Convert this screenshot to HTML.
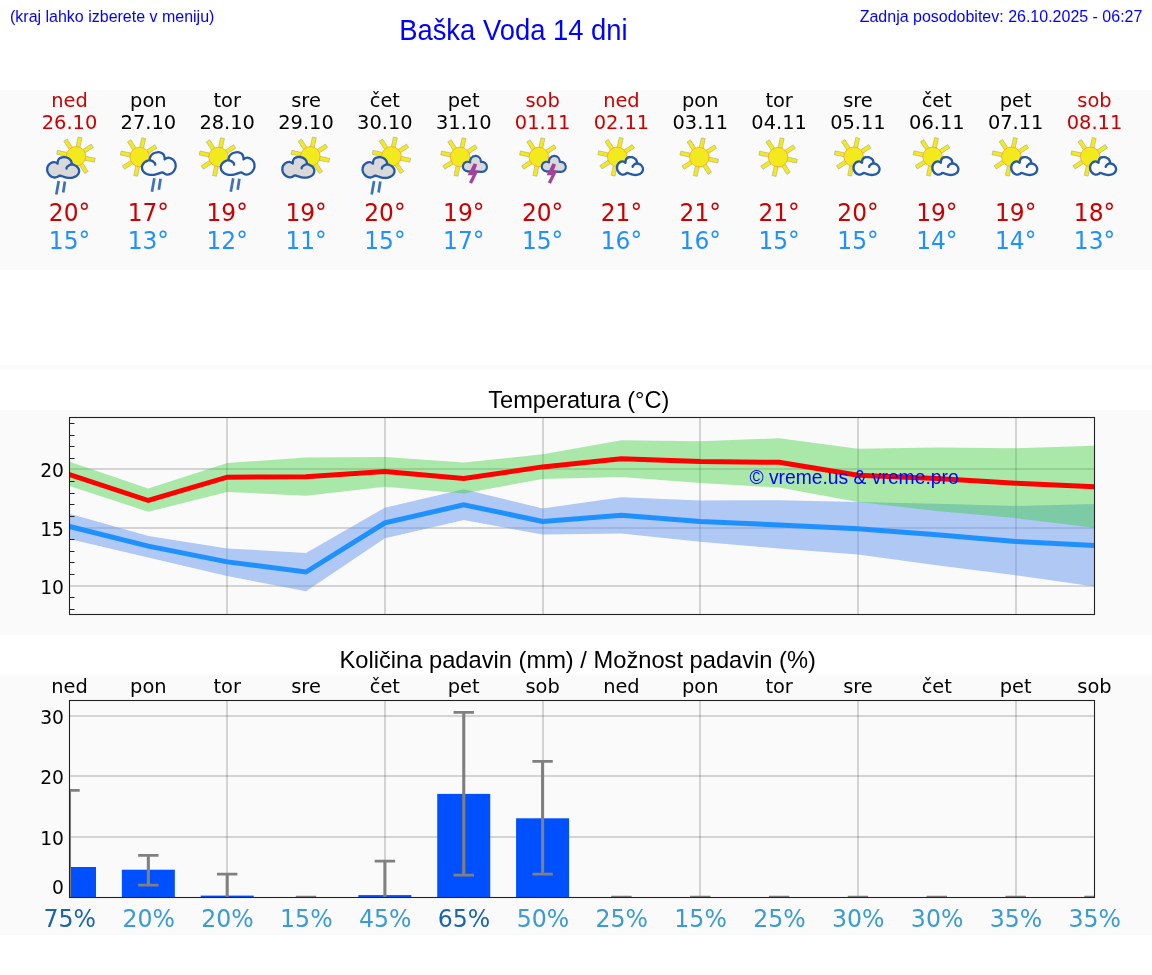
<!DOCTYPE html>
<html lang="sl">
<head>
<meta charset="utf-8">
<title>Baška Voda 14 dni</title>
<style>
html,body{margin:0;padding:0;background:#fff;}
body{width:1152px;height:975px;position:relative;overflow:hidden;font-family:"Liberation Sans",sans-serif;}
.band{position:absolute;left:0;width:1152px;background:#fafafa;}
.hdr{position:absolute;color:#0000ff;white-space:nowrap;line-height:1;}
svg{position:absolute;left:0;top:0;}
svg text{font-family:"DejaVu Sans","Liberation Sans",sans-serif;}
svg text.ls{font-family:"Liberation Sans",sans-serif;}
</style>
</head>
<body>
<div class="band" style="top:90px;height:180px"></div>
<div class="band" style="top:365px;height:5px"></div>
<div class="band" style="top:410px;height:225px"></div>
<div class="band" style="top:675px;height:260px"></div>
<svg width="1152" height="975" viewBox="0 0 1152 975">
<defs>
<g id="sun"><rect x="-2" y="-19.3" width="4" height="10" fill="#f2ea1c" stroke="#8a8aa0" stroke-opacity="0.55" stroke-width="0.7" transform="rotate(12)"/><rect x="-2" y="-19.3" width="4" height="10" fill="#f2ea1c" stroke="#8a8aa0" stroke-opacity="0.55" stroke-width="0.7" transform="rotate(57)"/><rect x="-2" y="-19.3" width="4" height="10" fill="#f2ea1c" stroke="#8a8aa0" stroke-opacity="0.55" stroke-width="0.7" transform="rotate(102)"/><rect x="-2" y="-19.3" width="4" height="10" fill="#f2ea1c" stroke="#8a8aa0" stroke-opacity="0.55" stroke-width="0.7" transform="rotate(147)"/><rect x="-2" y="-19.3" width="4" height="10" fill="#f2ea1c" stroke="#8a8aa0" stroke-opacity="0.55" stroke-width="0.7" transform="rotate(192)"/><rect x="-2" y="-19.3" width="4" height="10" fill="#f2ea1c" stroke="#8a8aa0" stroke-opacity="0.55" stroke-width="0.7" transform="rotate(237)"/><rect x="-2" y="-19.3" width="4" height="10" fill="#f2ea1c" stroke="#8a8aa0" stroke-opacity="0.55" stroke-width="0.7" transform="rotate(282)"/><rect x="-2" y="-19.3" width="4" height="10" fill="#f2ea1c" stroke="#8a8aa0" stroke-opacity="0.55" stroke-width="0.7" transform="rotate(327)"/><circle r="9.7" fill="#f2ea1c" stroke="#ffac22" stroke-width="0.9"/></g>
<g id="cloudS"><path d="M9.37,6.48 C9.41,6.08 9.35,4.84 9.60,4.09 C9.85,3.34 10.30,2.51 10.87,2.00 C11.43,1.49 12.25,1.19 12.98,1.01 C13.71,0.84 14.44,0.84 15.24,0.96 C16.04,1.07 17.03,1.30 17.78,1.70 C18.53,2.10 19.26,2.72 19.76,3.34 C20.25,3.96 20.56,4.81 20.75,5.43 C20.93,6.05 20.86,6.80 20.89,7.07 C21.22,7.17 22.16,7.35 22.86,7.67 C23.57,7.99 24.51,8.44 25.12,9.01 C25.73,9.59 26.24,10.41 26.53,11.10 C26.82,11.80 26.94,12.45 26.87,13.19 C26.80,13.94 26.54,14.88 26.11,15.58 C25.67,16.28 25.00,16.90 24.27,17.37 C23.54,17.84 22.58,18.19 21.73,18.42 C20.89,18.64 20.04,18.72 19.19,18.72 C18.35,18.72 17.50,18.59 16.65,18.42 C15.81,18.24 14.86,17.92 14.11,17.67 C13.36,17.42 12.70,17.08 12.14,16.92 C11.57,16.77 10.96,16.75 10.73,16.72 C10.49,16.90 9.88,17.54 9.31,17.82 C8.75,18.10 8.04,18.39 7.34,18.42 C6.63,18.44 5.83,18.32 5.08,17.97 C4.33,17.62 3.46,17.02 2.82,16.33 C2.19,15.63 1.59,14.61 1.27,13.79 C0.95,12.97 0.88,12.25 0.90,11.40 C0.93,10.56 1.07,9.51 1.41,8.72 C1.75,7.92 2.35,7.17 2.96,6.63 C3.58,6.08 4.35,5.66 5.08,5.43 C5.81,5.21 6.62,5.11 7.34,5.28 C8.05,5.46 9.03,6.28 9.37,6.48 Z" fill="#fbfbfb" stroke="#2458a8" stroke-width="2.35" stroke-linejoin="round"/><path d="M20.89,7.07 C20.60,7.17 19.71,7.42 19.19,7.67 C18.68,7.92 18.18,8.24 17.78,8.57 C17.38,8.89 16.99,9.26 16.79,9.61 C16.60,9.96 16.63,10.48 16.60,10.66" fill="none" stroke="#2458a8" stroke-width="2.35" stroke-linecap="round"/></g>
<g id="cloudG"><path d="M11.53,7.53 C11.57,7.07 11.50,5.62 11.81,4.76 C12.11,3.89 12.67,2.92 13.37,2.33 C14.06,1.73 15.08,1.38 15.97,1.18 C16.87,0.98 17.77,0.98 18.75,1.11 C19.73,1.24 20.95,1.52 21.88,1.98 C22.80,2.44 23.70,3.17 24.31,3.89 C24.91,4.61 25.29,5.60 25.52,6.32 C25.75,7.04 25.67,7.91 25.69,8.23 C26.10,8.34 27.26,8.55 28.12,8.92 C28.99,9.30 30.15,9.82 30.90,10.49 C31.66,11.15 32.28,12.11 32.64,12.92 C33.00,13.73 33.14,14.48 33.06,15.35 C32.97,16.22 32.65,17.31 32.12,18.12 C31.59,18.94 30.76,19.66 29.86,20.21 C28.96,20.76 27.78,21.16 26.74,21.42 C25.69,21.68 24.65,21.77 23.61,21.77 C22.57,21.77 21.53,21.63 20.49,21.42 C19.44,21.22 18.29,20.84 17.36,20.56 C16.44,20.27 15.62,19.87 14.93,19.69 C14.24,19.50 13.48,19.48 13.19,19.44 C12.91,19.66 12.15,20.40 11.46,20.73 C10.76,21.06 9.90,21.39 9.03,21.42 C8.16,21.45 7.18,21.31 6.25,20.90 C5.32,20.50 4.25,19.80 3.47,18.99 C2.69,18.18 1.96,17.00 1.56,16.04 C1.17,15.09 1.08,14.25 1.11,13.26 C1.14,12.28 1.31,11.06 1.74,10.14 C2.16,9.21 2.89,8.34 3.65,7.71 C4.40,7.07 5.35,6.58 6.25,6.32 C7.15,6.06 8.15,5.94 9.03,6.15 C9.91,6.35 11.11,7.30 11.53,7.53 Z" fill="#d9d9d9" stroke="#2458a8" stroke-width="2.30" stroke-linejoin="round"/><path d="M25.69,8.23 C25.35,8.34 24.25,8.63 23.61,8.92 C22.97,9.21 22.37,9.59 21.88,9.97 C21.38,10.34 20.90,10.78 20.66,11.18 C20.42,11.59 20.46,12.19 20.42,12.40" fill="none" stroke="#2458a8" stroke-width="2.30" stroke-linecap="round"/></g>
<g id="cloudW"><path d="M23.93,8.26 C23.88,7.75 23.96,6.17 23.64,5.22 C23.31,4.26 22.72,3.20 21.99,2.55 C21.26,1.90 20.19,1.52 19.24,1.29 C18.29,1.07 17.35,1.07 16.31,1.22 C15.27,1.36 13.99,1.66 13.01,2.17 C12.03,2.68 11.09,3.47 10.44,4.26 C9.80,5.06 9.41,6.14 9.16,6.93 C8.92,7.72 9.01,8.67 8.98,9.02 C8.55,9.15 7.33,9.37 6.41,9.78 C5.50,10.20 4.27,10.77 3.48,11.50 C2.69,12.23 2.03,13.27 1.65,14.16 C1.27,15.05 1.12,15.88 1.21,16.83 C1.30,17.78 1.64,18.99 2.20,19.87 C2.76,20.76 3.63,21.56 4.58,22.16 C5.53,22.76 6.78,23.21 7.88,23.49 C8.98,23.78 10.08,23.87 11.18,23.87 C12.28,23.87 13.38,23.71 14.48,23.49 C15.58,23.27 16.80,22.86 17.77,22.54 C18.75,22.22 19.61,21.79 20.34,21.59 C21.07,21.38 21.87,21.37 22.17,21.32 C22.48,21.56 23.27,22.37 24.01,22.73 C24.74,23.09 25.65,23.46 26.57,23.49 C27.49,23.52 28.53,23.36 29.50,22.92 C30.48,22.48 31.61,21.71 32.43,20.83 C33.26,19.94 34.04,18.64 34.45,17.59 C34.87,16.54 34.96,15.62 34.93,14.54 C34.90,13.47 34.71,12.13 34.27,11.12 C33.82,10.10 33.05,9.15 32.25,8.45 C31.46,7.75 30.45,7.21 29.50,6.93 C28.56,6.64 27.50,6.52 26.57,6.74 C25.64,6.96 24.37,8.01 23.93,8.26 Z" fill="#fbfbfb" stroke="#2458a8" stroke-width="2.30" stroke-linejoin="round"/><path d="M8.98,9.02 C9.34,9.15 10.51,9.47 11.18,9.78 C11.85,10.10 12.49,10.51 13.01,10.93 C13.53,11.34 14.04,11.82 14.29,12.26 C14.55,12.70 14.51,13.37 14.55,13.59" fill="none" stroke="#2458a8" stroke-width="2.30" stroke-linecap="round"/></g>
<g id="cloudT"><path d="M5.85,16.50 A4.80,4.80 0 1 1 8.38,7.62 A5.40,5.40 0 1 1 19.01,7.09 A5.00,5.00 0 1 1 20.08,16.97 Z" fill="#d9d9d9" stroke="#2458a8" stroke-width="2.10" stroke-linejoin="round"/></g>
<g id="rain"><path d="M0,0 L-2.4,13.5 M6.2,0.5 L4.5,11.5" stroke="#3f70ba" stroke-width="2.7" fill="none"/></g>
<path id="bolt" d="M41.7,33.2 L45.2,34.5 L43.1,40.3 L46.5,40.5 L40,53.7 L37,52.3 L40.7,45.3 L35.9,45.3 Z" fill="#a5419b"/>
</defs>
<text class="ls" transform="translate(10,21.9) scale(1,1.04)" font-size="16" fill="#0000ff">(kraj lahko izberete v meniju)</text>
<text class="ls" transform="translate(513.4,39.7) scale(1,1.045)" font-size="27.4" text-anchor="middle" fill="#0000ff">Baška Voda 14 dni</text>
<text class="ls" transform="translate(1142.4,21.6) scale(1,1.04)" font-size="16" text-anchor="end" fill="#0000ff">Zadnja posodobitev: 26.10.2025 - 06:27</text>
<text x="69.50" y="107" font-size="19.4" text-anchor="middle" fill="#cc0000">ned</text>
<text x="69.50" y="129" font-size="19.4" text-anchor="middle" fill="#cc0000">26.10</text>
<text transform="translate(69.50,221.4) scale(0.933,1)" font-size="25" text-anchor="middle" fill="#cc0000">20°</text>
<text transform="translate(69.50,249.2) scale(0.933,1)" font-size="25" text-anchor="middle" fill="#1e90ff">15°</text>
<use href="#sun" x="76.00" y="156.3"/>
<use href="#cloudG" x="46.08" y="156.1"/>
<use href="#rain" x="58.70" y="181"/>
<text x="148.35" y="107" font-size="19.4" text-anchor="middle" fill="#000">pon</text>
<text x="148.35" y="129" font-size="19.4" text-anchor="middle" fill="#000">27.10</text>
<text transform="translate(148.35,221.4) scale(0.933,1)" font-size="25" text-anchor="middle" fill="#cc0000">17°</text>
<text transform="translate(148.35,249.2) scale(0.933,1)" font-size="25" text-anchor="middle" fill="#1e90ff">13°</text>
<use href="#sun" x="139.65" y="157"/>
<use href="#cloudW" x="140.73" y="151.1"/>
<use href="#rain" x="154.35" y="178.3"/>
<text x="227.19" y="107" font-size="19.4" text-anchor="middle" fill="#000">tor</text>
<text x="227.19" y="129" font-size="19.4" text-anchor="middle" fill="#000">28.10</text>
<text transform="translate(227.19,221.4) scale(0.933,1)" font-size="25" text-anchor="middle" fill="#cc0000">19°</text>
<text transform="translate(227.19,249.2) scale(0.933,1)" font-size="25" text-anchor="middle" fill="#1e90ff">12°</text>
<use href="#sun" x="218.49" y="157"/>
<use href="#cloudW" x="219.57" y="151.1"/>
<use href="#rain" x="233.19" y="178.3"/>
<text x="306.04" y="107" font-size="19.4" text-anchor="middle" fill="#000">sre</text>
<text x="306.04" y="129" font-size="19.4" text-anchor="middle" fill="#000">29.10</text>
<text transform="translate(306.04,221.4) scale(0.933,1)" font-size="25" text-anchor="middle" fill="#cc0000">19°</text>
<text transform="translate(306.04,249.2) scale(0.933,1)" font-size="25" text-anchor="middle" fill="#1e90ff">11°</text>
<use href="#sun" x="310.34" y="156.3"/>
<use href="#cloudG" x="281.24" y="155.9"/>
<text x="384.88" y="107" font-size="19.4" text-anchor="middle" fill="#000">čet</text>
<text x="384.88" y="129" font-size="19.4" text-anchor="middle" fill="#000">30.10</text>
<text transform="translate(384.88,221.4) scale(0.933,1)" font-size="25" text-anchor="middle" fill="#cc0000">20°</text>
<text transform="translate(384.88,249.2) scale(0.933,1)" font-size="25" text-anchor="middle" fill="#1e90ff">15°</text>
<use href="#sun" x="391.38" y="156.3"/>
<use href="#cloudG" x="361.46" y="156.1"/>
<use href="#rain" x="374.08" y="181"/>
<text x="463.73" y="107" font-size="19.4" text-anchor="middle" fill="#000">pet</text>
<text x="463.73" y="129" font-size="19.4" text-anchor="middle" fill="#000">31.10</text>
<text transform="translate(463.73,221.4) scale(0.933,1)" font-size="25" text-anchor="middle" fill="#cc0000">19°</text>
<text transform="translate(463.73,249.2) scale(0.933,1)" font-size="25" text-anchor="middle" fill="#1e90ff">17°</text>
<use href="#sun" x="460.03" y="157"/>
<use href="#cloudT" x="461.85" y="154.87"/>
<use href="#bolt" x="432.00" y="130"/>
<text x="542.58" y="107" font-size="19.4" text-anchor="middle" fill="#cc0000">sob</text>
<text x="542.58" y="129" font-size="19.4" text-anchor="middle" fill="#cc0000">01.11</text>
<text transform="translate(542.58,221.4) scale(0.933,1)" font-size="25" text-anchor="middle" fill="#cc0000">20°</text>
<text transform="translate(542.58,249.2) scale(0.933,1)" font-size="25" text-anchor="middle" fill="#1e90ff">15°</text>
<use href="#sun" x="538.88" y="157"/>
<use href="#cloudT" x="540.70" y="154.87"/>
<use href="#bolt" x="510.85" y="130"/>
<text x="621.42" y="107" font-size="19.4" text-anchor="middle" fill="#cc0000">ned</text>
<text x="621.42" y="129" font-size="19.4" text-anchor="middle" fill="#cc0000">02.11</text>
<text transform="translate(621.42,221.4) scale(0.933,1)" font-size="25" text-anchor="middle" fill="#cc0000">21°</text>
<text transform="translate(621.42,249.2) scale(0.933,1)" font-size="25" text-anchor="middle" fill="#1e90ff">16°</text>
<use href="#sun" x="617.12" y="156.8"/>
<use href="#cloudS" x="616.10" y="156.25"/>
<text x="700.27" y="107" font-size="19.4" text-anchor="middle" fill="#000">pon</text>
<text x="700.27" y="129" font-size="19.4" text-anchor="middle" fill="#000">03.11</text>
<text transform="translate(700.27,221.4) scale(0.933,1)" font-size="25" text-anchor="middle" fill="#cc0000">21°</text>
<text transform="translate(700.27,249.2) scale(0.933,1)" font-size="25" text-anchor="middle" fill="#1e90ff">16°</text>
<use href="#sun" x="699.27" y="157.1"/>
<text x="779.12" y="107" font-size="19.4" text-anchor="middle" fill="#000">tor</text>
<text x="779.12" y="129" font-size="19.4" text-anchor="middle" fill="#000">04.11</text>
<text transform="translate(779.12,221.4) scale(0.933,1)" font-size="25" text-anchor="middle" fill="#cc0000">21°</text>
<text transform="translate(779.12,249.2) scale(0.933,1)" font-size="25" text-anchor="middle" fill="#1e90ff">15°</text>
<use href="#sun" x="778.12" y="157.1"/>
<text x="857.96" y="107" font-size="19.4" text-anchor="middle" fill="#000">sre</text>
<text x="857.96" y="129" font-size="19.4" text-anchor="middle" fill="#000">05.11</text>
<text transform="translate(857.96,221.4) scale(0.933,1)" font-size="25" text-anchor="middle" fill="#cc0000">20°</text>
<text transform="translate(857.96,249.2) scale(0.933,1)" font-size="25" text-anchor="middle" fill="#1e90ff">15°</text>
<use href="#sun" x="853.66" y="156.8"/>
<use href="#cloudS" x="852.64" y="156.25"/>
<text x="936.81" y="107" font-size="19.4" text-anchor="middle" fill="#000">čet</text>
<text x="936.81" y="129" font-size="19.4" text-anchor="middle" fill="#000">06.11</text>
<text transform="translate(936.81,221.4) scale(0.933,1)" font-size="25" text-anchor="middle" fill="#cc0000">19°</text>
<text transform="translate(936.81,249.2) scale(0.933,1)" font-size="25" text-anchor="middle" fill="#1e90ff">14°</text>
<use href="#sun" x="932.51" y="156.8"/>
<use href="#cloudS" x="931.49" y="156.25"/>
<text x="1015.65" y="107" font-size="19.4" text-anchor="middle" fill="#000">pet</text>
<text x="1015.65" y="129" font-size="19.4" text-anchor="middle" fill="#000">07.11</text>
<text transform="translate(1015.65,221.4) scale(0.933,1)" font-size="25" text-anchor="middle" fill="#cc0000">19°</text>
<text transform="translate(1015.65,249.2) scale(0.933,1)" font-size="25" text-anchor="middle" fill="#1e90ff">14°</text>
<use href="#sun" x="1011.35" y="156.8"/>
<use href="#cloudS" x="1010.33" y="156.25"/>
<text x="1094.50" y="107" font-size="19.4" text-anchor="middle" fill="#cc0000">sob</text>
<text x="1094.50" y="129" font-size="19.4" text-anchor="middle" fill="#cc0000">08.11</text>
<text transform="translate(1094.50,221.4) scale(0.933,1)" font-size="25" text-anchor="middle" fill="#cc0000">18°</text>
<text transform="translate(1094.50,249.2) scale(0.933,1)" font-size="25" text-anchor="middle" fill="#1e90ff">13°</text>
<use href="#sun" x="1090.20" y="156.8"/>
<use href="#cloudS" x="1089.18" y="156.25"/>
<text class="ls" transform="translate(578.8,407.9) scale(1,1.04)" font-size="23.6" text-anchor="middle" fill="#000">Temperatura (°C)</text>
<clipPath id="ct"><rect x="69.5" y="417.5" width="1025.0" height="197.0"/></clipPath>
<line x1="69.5" x2="1094.5" y1="469" y2="469" stroke="#000" stroke-opacity="0.15" stroke-width="2"/>
<line x1="69.5" x2="1094.5" y1="528" y2="528" stroke="#000" stroke-opacity="0.15" stroke-width="2"/>
<line x1="69.5" x2="1094.5" y1="586" y2="586" stroke="#000" stroke-opacity="0.15" stroke-width="2"/>
<line x1="227" x2="227" y1="417.5" y2="614.5" stroke="#000" stroke-opacity="0.15" stroke-width="2"/>
<line x1="385" x2="385" y1="417.5" y2="614.5" stroke="#000" stroke-opacity="0.15" stroke-width="2"/>
<line x1="543" x2="543" y1="417.5" y2="614.5" stroke="#000" stroke-opacity="0.15" stroke-width="2"/>
<line x1="700" x2="700" y1="417.5" y2="614.5" stroke="#000" stroke-opacity="0.15" stroke-width="2"/>
<line x1="858" x2="858" y1="417.5" y2="614.5" stroke="#000" stroke-opacity="0.15" stroke-width="2"/>
<line x1="1016" x2="1016" y1="417.5" y2="614.5" stroke="#000" stroke-opacity="0.15" stroke-width="2"/>
<g clip-path="url(#ct)">
<polygon points="69.5,513.8 148.3,536.0 227.2,548.4 306.0,552.9 384.9,507.7 463.7,489.2 542.6,508.4 621.4,497.3 700.3,500.4 779.1,500.3 858.0,501.9 936.8,503.8 1015.7,506.1 1094.5,504.1 1094.5,586.5 1015.7,575.2 936.8,565.2 858.0,554.6 779.1,548.5 700.3,541.7 621.4,533.4 542.6,534.4 463.7,520.1 384.9,538.2 306.0,591.2 227.2,576.1 148.3,557.4 69.5,538.9" fill="#6495ed" fill-opacity="0.5"/>
<polygon points="69.5,461.7 148.3,488.5 227.2,463.0 306.0,457.6 384.9,456.9 463.7,462.6 542.6,454.2 621.4,440.2 700.3,441.3 779.1,438.3 858.0,448.8 936.8,447.6 1015.7,448.2 1094.5,445.8 1094.5,527.8 1015.7,518.1 936.8,511.0 858.0,502.0 779.1,487.6 700.3,483.0 621.4,477.0 542.6,479.0 463.7,493.5 384.9,486.7 306.0,495.8 227.2,491.9 148.3,511.8 69.5,486.0" fill="#32cd32" fill-opacity="0.4"/>
<polyline points="69.5,526.5 148.3,546.1 227.2,561.9 306.0,572.0 384.9,522.8 463.7,504.8 542.6,521.4 621.4,515.3 700.3,521.4 779.1,525.0 858.0,528.8 936.8,534.8 1015.7,541.5 1094.5,545.5" fill="none" stroke="#1e90ff" stroke-width="5" stroke-linejoin="miter"/>
<polyline points="69.5,474.6 148.3,500.5 227.2,477.2 306.0,476.8 384.9,471.6 463.7,478.4 542.6,466.9 621.4,458.7 700.3,461.6 779.1,462.3 858.0,475.2 936.8,478.6 1015.7,483.2 1094.5,486.8" fill="none" stroke="#ff0000" stroke-width="5" stroke-linejoin="miter"/>
</g>
<text class="ls" transform="translate(854,484.3) scale(1,1.04)" font-size="19.3" text-anchor="middle" fill="#0000ff">© vreme.us &amp; vreme.pro</text>
<line x1="69.5" x2="74.5" y1="609.5" y2="609.5" stroke="#222" stroke-width="1"/>
<line x1="69.5" x2="74.5" y1="597.5" y2="597.5" stroke="#222" stroke-width="1"/>
<line x1="69.5" x2="74.5" y1="574.5" y2="574.5" stroke="#222" stroke-width="1"/>
<line x1="69.5" x2="74.5" y1="562.5" y2="562.5" stroke="#222" stroke-width="1"/>
<line x1="69.5" x2="74.5" y1="551.5" y2="551.5" stroke="#222" stroke-width="1"/>
<line x1="69.5" x2="74.5" y1="539.5" y2="539.5" stroke="#222" stroke-width="1"/>
<line x1="69.5" x2="74.5" y1="516.5" y2="516.5" stroke="#222" stroke-width="1"/>
<line x1="69.5" x2="74.5" y1="504.5" y2="504.5" stroke="#222" stroke-width="1"/>
<line x1="69.5" x2="74.5" y1="493.5" y2="493.5" stroke="#222" stroke-width="1"/>
<line x1="69.5" x2="74.5" y1="481.5" y2="481.5" stroke="#222" stroke-width="1"/>
<line x1="69.5" x2="74.5" y1="458.5" y2="458.5" stroke="#222" stroke-width="1"/>
<line x1="69.5" x2="74.5" y1="446.5" y2="446.5" stroke="#222" stroke-width="1"/>
<line x1="69.5" x2="74.5" y1="435.5" y2="435.5" stroke="#222" stroke-width="1"/>
<line x1="69.5" x2="74.5" y1="423.5" y2="423.5" stroke="#222" stroke-width="1"/>
<rect x="69.5" y="417.5" width="1025.0" height="197.0" fill="none" stroke="#222" stroke-width="1.1"/>
<text x="64" y="594.0" font-size="18.7" text-anchor="end" fill="#000">10</text>
<text x="64" y="536.0" font-size="18.7" text-anchor="end" fill="#000">15</text>
<text x="64" y="477.0" font-size="18.7" text-anchor="end" fill="#000">20</text>
<text class="ls" transform="translate(577.7,668.3) scale(1,1.04)" font-size="23.7" text-anchor="middle" fill="#000">Količina padavin (mm) / Možnost padavin (%)</text>
<text x="69.50" y="693" font-size="19.4" text-anchor="middle" fill="#000">ned</text>
<text x="148.35" y="693" font-size="19.4" text-anchor="middle" fill="#000">pon</text>
<text x="227.19" y="693" font-size="19.4" text-anchor="middle" fill="#000">tor</text>
<text x="306.04" y="693" font-size="19.4" text-anchor="middle" fill="#000">sre</text>
<text x="384.88" y="693" font-size="19.4" text-anchor="middle" fill="#000">čet</text>
<text x="463.73" y="693" font-size="19.4" text-anchor="middle" fill="#000">pet</text>
<text x="542.58" y="693" font-size="19.4" text-anchor="middle" fill="#000">sob</text>
<text x="621.42" y="693" font-size="19.4" text-anchor="middle" fill="#000">ned</text>
<text x="700.27" y="693" font-size="19.4" text-anchor="middle" fill="#000">pon</text>
<text x="779.12" y="693" font-size="19.4" text-anchor="middle" fill="#000">tor</text>
<text x="857.96" y="693" font-size="19.4" text-anchor="middle" fill="#000">sre</text>
<text x="936.81" y="693" font-size="19.4" text-anchor="middle" fill="#000">čet</text>
<text x="1015.65" y="693" font-size="19.4" text-anchor="middle" fill="#000">pet</text>
<text x="1094.50" y="693" font-size="19.4" text-anchor="middle" fill="#000">sob</text>
<clipPath id="cp"><rect x="69.5" y="700.5" width="1025.0" height="197.0"/></clipPath>
<line x1="69.5" x2="1094.5" y1="716" y2="716" stroke="#000" stroke-opacity="0.15" stroke-width="2"/>
<line x1="69.5" x2="1094.5" y1="776" y2="776" stroke="#000" stroke-opacity="0.15" stroke-width="2"/>
<line x1="69.5" x2="1094.5" y1="837" y2="837" stroke="#000" stroke-opacity="0.15" stroke-width="2"/>
<line x1="227" x2="227" y1="700.5" y2="897.5" stroke="#000" stroke-opacity="0.15" stroke-width="2"/>
<line x1="385" x2="385" y1="700.5" y2="897.5" stroke="#000" stroke-opacity="0.15" stroke-width="2"/>
<line x1="543" x2="543" y1="700.5" y2="897.5" stroke="#000" stroke-opacity="0.15" stroke-width="2"/>
<line x1="700" x2="700" y1="700.5" y2="897.5" stroke="#000" stroke-opacity="0.15" stroke-width="2"/>
<line x1="858" x2="858" y1="700.5" y2="897.5" stroke="#000" stroke-opacity="0.15" stroke-width="2"/>
<line x1="1016" x2="1016" y1="700.5" y2="897.5" stroke="#000" stroke-opacity="0.15" stroke-width="2"/>
<g clip-path="url(#cp)">
<rect x="43.00" y="867.0" width="53.0" height="30.5" fill="#0050ff"/>
<rect x="121.85" y="869.7" width="53.0" height="27.8" fill="#0050ff"/>
<rect x="200.69" y="895.6" width="53.0" height="1.9" fill="#0050ff"/>
<rect x="358.38" y="895.1" width="53.0" height="2.4" fill="#0050ff"/>
<rect x="437.23" y="793.9" width="53.0" height="103.6" fill="#0050ff"/>
<rect x="516.08" y="818.3" width="53.0" height="79.2" fill="#0050ff"/>
<line x1="69.50" x2="69.50" y1="897.2" y2="790.3" stroke="#808080" stroke-width="3.1"/>
<line x1="59.30" x2="79.70" y1="790.3" y2="790.3" stroke="#808080" stroke-width="2.8"/>
<line x1="148.35" x2="148.35" y1="885.2" y2="855.3" stroke="#808080" stroke-width="3.1"/>
<line x1="138.15" x2="158.55" y1="855.3" y2="855.3" stroke="#808080" stroke-width="2.8"/>
<line x1="138.15" x2="158.55" y1="885.2" y2="885.2" stroke="#808080" stroke-width="2.8"/>
<line x1="227.19" x2="227.19" y1="897.2" y2="874.2" stroke="#808080" stroke-width="3.1"/>
<line x1="216.99" x2="237.39" y1="874.2" y2="874.2" stroke="#808080" stroke-width="2.8"/>
<line x1="295.84" x2="316.24" y1="897.2" y2="897.2" stroke="#808080" stroke-width="2.8"/>
<line x1="384.88" x2="384.88" y1="897.2" y2="861.1" stroke="#808080" stroke-width="3.1"/>
<line x1="374.68" x2="395.08" y1="861.1" y2="861.1" stroke="#808080" stroke-width="2.8"/>
<line x1="463.73" x2="463.73" y1="875.2" y2="712.4" stroke="#808080" stroke-width="3.1"/>
<line x1="453.53" x2="473.93" y1="712.4" y2="712.4" stroke="#808080" stroke-width="2.8"/>
<line x1="453.53" x2="473.93" y1="875.2" y2="875.2" stroke="#808080" stroke-width="2.8"/>
<line x1="542.58" x2="542.58" y1="874.2" y2="761.3" stroke="#808080" stroke-width="3.1"/>
<line x1="532.38" x2="552.78" y1="761.3" y2="761.3" stroke="#808080" stroke-width="2.8"/>
<line x1="532.38" x2="552.78" y1="874.2" y2="874.2" stroke="#808080" stroke-width="2.8"/>
<line x1="611.22" x2="631.62" y1="897.2" y2="897.2" stroke="#808080" stroke-width="2.8"/>
<line x1="690.07" x2="710.47" y1="897.2" y2="897.2" stroke="#808080" stroke-width="2.8"/>
<line x1="768.92" x2="789.32" y1="897.2" y2="897.2" stroke="#808080" stroke-width="2.8"/>
<line x1="847.76" x2="868.16" y1="897.2" y2="897.2" stroke="#808080" stroke-width="2.8"/>
<line x1="926.61" x2="947.01" y1="897.2" y2="897.2" stroke="#808080" stroke-width="2.8"/>
<line x1="1005.45" x2="1025.85" y1="897.2" y2="897.2" stroke="#808080" stroke-width="2.8"/>
<line x1="1084.30" x2="1104.70" y1="897.2" y2="897.2" stroke="#808080" stroke-width="2.8"/>
</g>
<rect x="69.5" y="700.5" width="1025.0" height="197.0" fill="none" stroke="#222" stroke-width="1.1"/>
<text x="64" y="844.7" font-size="18.7" text-anchor="end" fill="#000">10</text>
<text x="64" y="784.0" font-size="18.7" text-anchor="end" fill="#000">20</text>
<text x="64" y="723.5" font-size="18.7" text-anchor="end" fill="#000">30</text>
<text x="64" y="893.5" font-size="18.7" text-anchor="end" fill="#000">0</text>
<text transform="translate(69.80,926.8) scale(0.945,1)" font-size="25" text-anchor="middle" fill="#1a64af">75%</text>
<text transform="translate(148.65,926.8) scale(0.945,1)" font-size="25" text-anchor="middle" fill="#3a9bd5">20%</text>
<text transform="translate(227.49,926.8) scale(0.945,1)" font-size="25" text-anchor="middle" fill="#3a9bd5">20%</text>
<text transform="translate(306.34,926.8) scale(0.945,1)" font-size="25" text-anchor="middle" fill="#3a9bd5">15%</text>
<text transform="translate(385.18,926.8) scale(0.945,1)" font-size="25" text-anchor="middle" fill="#3a9bd5">45%</text>
<text transform="translate(464.03,926.8) scale(0.945,1)" font-size="25" text-anchor="middle" fill="#1a64af">65%</text>
<text transform="translate(542.88,926.8) scale(0.945,1)" font-size="25" text-anchor="middle" fill="#3a9bd5">50%</text>
<text transform="translate(621.72,926.8) scale(0.945,1)" font-size="25" text-anchor="middle" fill="#3a9bd5">25%</text>
<text transform="translate(700.57,926.8) scale(0.945,1)" font-size="25" text-anchor="middle" fill="#3a9bd5">15%</text>
<text transform="translate(779.42,926.8) scale(0.945,1)" font-size="25" text-anchor="middle" fill="#3a9bd5">25%</text>
<text transform="translate(858.26,926.8) scale(0.945,1)" font-size="25" text-anchor="middle" fill="#3a9bd5">30%</text>
<text transform="translate(937.11,926.8) scale(0.945,1)" font-size="25" text-anchor="middle" fill="#3a9bd5">30%</text>
<text transform="translate(1015.95,926.8) scale(0.945,1)" font-size="25" text-anchor="middle" fill="#3a9bd5">35%</text>
<text transform="translate(1094.80,926.8) scale(0.945,1)" font-size="25" text-anchor="middle" fill="#3a9bd5">35%</text>
</svg>
</body>
</html>
